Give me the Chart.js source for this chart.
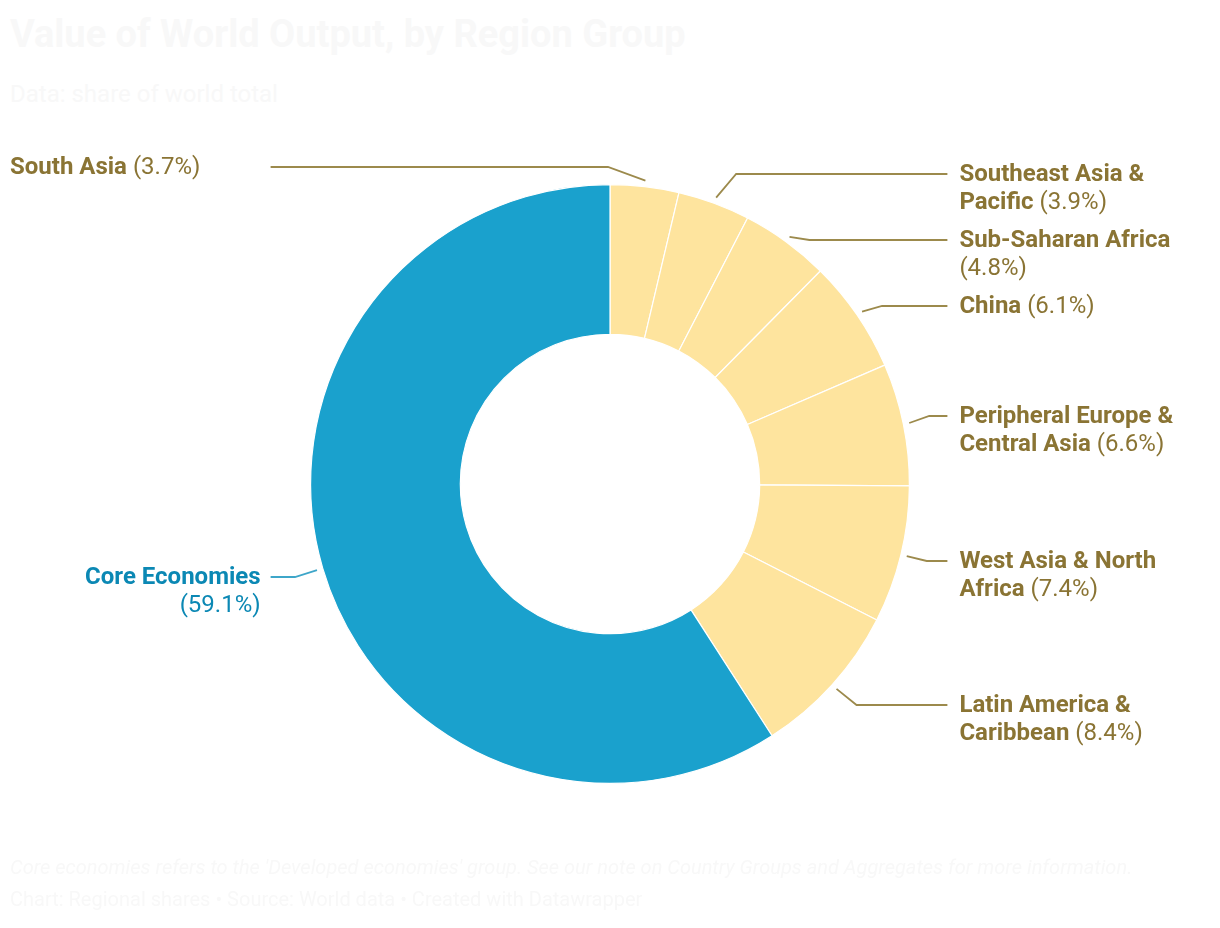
<!DOCTYPE html>
<html>
<head>
<meta charset="utf-8">
<script src="https://cdn.jsdelivr.net/npm/chart.js@4/dist/chart.umd.min.js"></script>
<style>
  html, body { margin: 0; padding: 0; background: #fff; }
  #wrap { position: relative; width: 1220px; height: 928px; overflow: hidden; font-family: Roboto, sans-serif; }
  #chart_plot { position: absolute; left: 0; top: 0; }
  .faint { position: absolute; left: 10px; color: #f8f8f8; white-space: nowrap; }
  #title { top: 12px; font-size: 38px; font-weight: 700; }
  #subtitle { top: 80px; font-size: 24px; }
  #note { top: 855px; font-size: 20px; font-style: italic; }
  #source { top: 887px; font-size: 20px; }
</style>
</head>
<body>
<div id="wrap">
  <div class="faint" id="title">Value of World Output, by Region Group</div>
  <div class="faint" id="subtitle">Data: share of world total</div>
  <canvas id="chart_plot" width="1220" height="928"></canvas>
  <div class="faint" id="note">Core economies refers to the 'Developed economies' group. See our note on Country Groups and Aggregates for more information.</div>
  <div class="faint" id="source">Chart: Regional shares • Source: World data • Created with Datawrapper</div>
</div>
<script>
// data, clockwise from 12 o'clock
const categories = [
    'South Asia',
    'Southeast Asia & Pacific',
    'Sub-Saharan Africa',
    'China',
    'Peripheral Europe & Central Asia',
    'West Asia & North Africa',
    'Latin America & Caribbean',
    'Core Economies'
];
const shares = [3.7, 3.9, 4.8, 6.1, 6.6, 7.4, 8.4, 59.1];

// styling / label layout
const sliceColors = ['#fee49e', '#fee49e', '#fee49e', '#fee49e', '#fee49e', '#fee49e', '#fee49e', '#1aa1cd'];
const textColors = ['#8a7434', '#8a7434', '#8a7434', '#8a7434', '#8a7434', '#8a7434', '#8a7434', '#0b88b4'];
const lineColors = ['#9c8a4c', '#9c8a4c', '#9c8a4c', '#9c8a4c', '#9c8a4c', '#9c8a4c', '#9c8a4c', '#3ea6c9'];
const labelSide = ['L', 'R', 'R', 'R', 'R', 'R', 'R', 'L'];
const labelAlign = ['left', 'left', 'left', 'left', 'left', 'left', 'left', 'right'];
const labelRowY = [167, 174, 240, 306, 416, 561, 705, 577];

const FONT = 'Roboto, "Noto Sans", sans-serif';
const FONT_PX = 24;
const LINE_H = 28;
const MAX_W = 228;

function wrapLabel(ctx, name, pct) {
    // words tagged bold (name) or regular (percentage)
    let words = name.split(' ').map(function(w) { return { t: w, b: true }; });
    words.push({ t: '(' + pct.toFixed(1) + '%)', b: false });
    let lines = [[]];
    let width = 0;
    words.forEach(function(w) {
        ctx.font = (w.b ? '700 ' : '400 ') + FONT_PX + 'px ' + FONT;
        let ww = ctx.measureText(w.t).width;
        ctx.font = '400 ' + FONT_PX + 'px ' + FONT;
        let sp = ctx.measureText(' ').width;
        let cur = lines[lines.length - 1];
        let add = cur.length ? sp + ww : ww;
        if (cur.length && width + add > MAX_W) {
            lines.push([{ t: w.t, b: w.b, w: ww }]);
            width = ww;
        } else {
            cur.push({ t: w.t, b: w.b, w: ww, sp: cur.length ? sp : 0 });
            width += add;
        }
    });
    return lines;
}

const labelPlugin = {
    id: 'sliceLabels',
    afterDraw: function(chart) {
        const ctx = chart.ctx;
        const arcs = chart.getDatasetMeta(0).data;
        ctx.save();
        arcs.forEach(function(arc, i) {
            const p = arc.getProps(['x', 'y', 'startAngle', 'endAngle', 'outerRadius'], true);
            const mid = (p.startAngle + p.endAngle) / 2;
            const r = p.outerRadius + 6;
            const sx = p.x + Math.cos(mid) * r;
            const sy = p.y + Math.sin(mid) * r;
            const ly = labelRowY[i];
            let ex, lx;
            if (labelSide[i] === 'R') {
                ex = sx + 20;
                lx = p.x + p.outerRadius + 38;
            } else {
                ex = Math.min(sx - 22, p.x - 2);
                lx = p.x - p.outerRadius - 40;
            }
            ctx.strokeStyle = lineColors[i];
            ctx.lineWidth = 1.8;
            ctx.beginPath();
            ctx.moveTo(sx, sy);
            ctx.lineTo(ex, ly);
            ctx.lineTo(lx, ly);
            ctx.stroke();

            const lines = wrapLabel(ctx, categories[i], shares[i]);
            ctx.fillStyle = textColors[i];
            ctx.textBaseline = 'middle';
            ctx.textAlign = 'left';
            lines.forEach(function(line, li) {
                const total = line.reduce(function(s, w) { return s + w.w + (w.sp || 0); }, 0);
                let x;
                if (labelSide[i] === 'R') {
                    x = lx + 12;
                } else if (labelAlign[i] === 'right') {
                    x = lx - 10 - total;
                } else {
                    x = 10;
                }
                line.forEach(function(w) {
                    x += (w.sp || 0);
                    ctx.font = (w.b ? '700 ' : '400 ') + FONT_PX + 'px ' + FONT;
                    ctx.fillText(w.t, x, ly + li * LINE_H + 1);
                    x += w.w;
                });
            });
        });
        ctx.restore();
    }
};

const myChart = new Chart(document.getElementById('chart_plot'), {
    type: 'doughnut',
    data: {
        labels: categories,
        datasets: [{
            data: shares,
            backgroundColor: sliceColors,
            borderColor: '#ffffff',
            borderWidth: 1.2,
            hoverOffset: 0
        }]
    },
    options: {
        responsive: false,
        animation: false,
        cutout: '50%',
        layout: { padding: { left: 310, right: 310, top: 184, bottom: 144 } },
        plugins: {
            legend: { display: false },
            tooltip: { enabled: false }
        }
    },
    plugins: [labelPlugin]
});
</script>
</body>
</html>
